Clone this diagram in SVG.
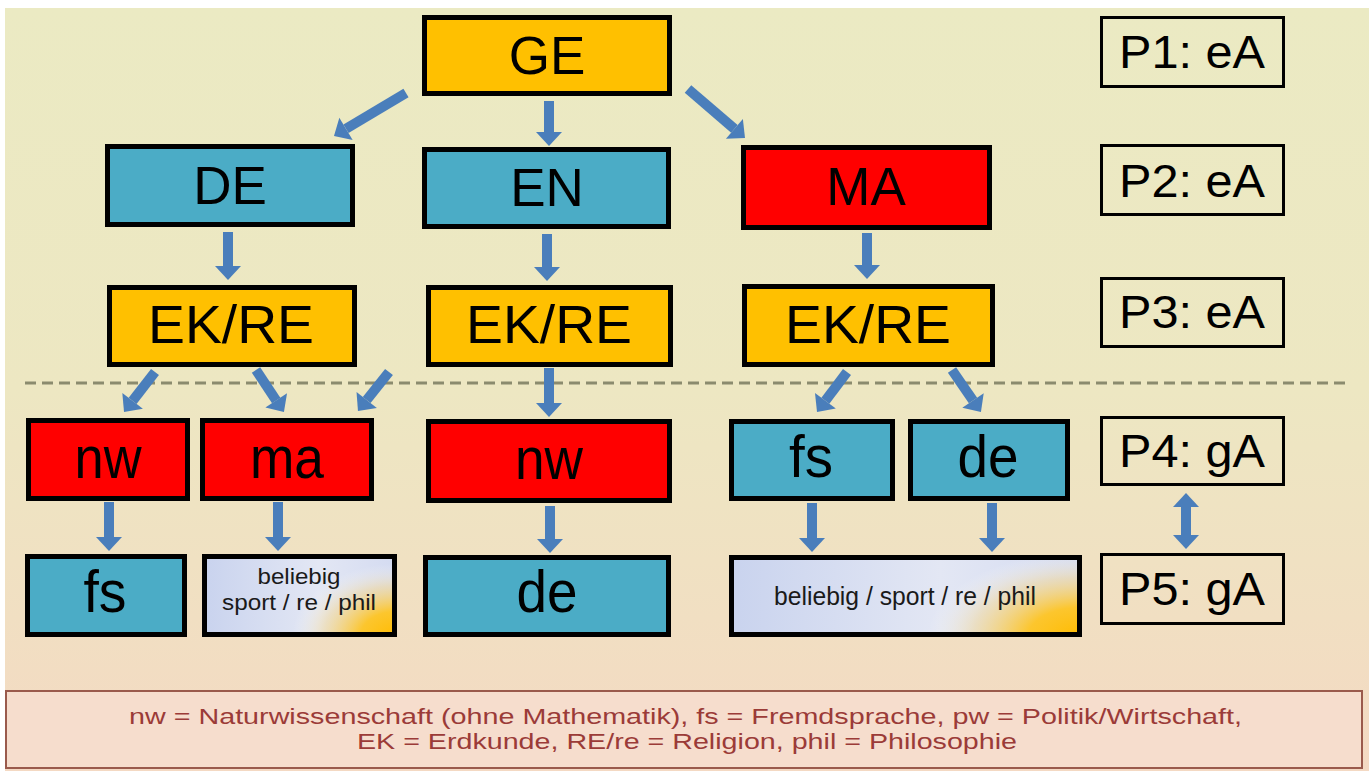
<svg xmlns="http://www.w3.org/2000/svg" width="1369" height="771" viewBox="0 0 1369 771">
  <defs>
    <style>
      .n { stroke: #000; stroke-width: 5; }
      .or { fill: #ffc000; }
      .bl { fill: #4bacc6; }
      .rd { fill: #ff0000; }
      .p { fill: none; stroke: #000; stroke-width: 3; }
      .t { font-family: "Liberation Sans", Arial, sans-serif; fill: #000; text-anchor: middle; }
      .big { font-size: 53px; }
      .low { font-size: 60px; }
      .pl { font-size: 46px; }
      .sm { font-size: 22px; fill: #1a1a1a; }
      .wd { font-size: 25px; fill: #1a1a1a; }
      .leg { font-family: "Liberation Sans", Arial, sans-serif; font-size: 22px; fill: #9b3b38; text-anchor: middle; }
      .ar { stroke: #4a7ebb; stroke-width: 10; fill: none; }
    </style>
    <marker id="ah" markerUnits="userSpaceOnUse" markerWidth="14" markerHeight="26" refX="0" refY="13" orient="auto-start-reverse" overflow="visible">
      <path d="M0,0 L14,13 L0,26 Z" fill="#4a7ebb"/>
    </marker>
    <linearGradient id="bg" x1="0" y1="0" x2="0" y2="1">
      <stop offset="0" stop-color="#ebeac3"/>
      <stop offset="0.5" stop-color="#ede7c2"/>
      <stop offset="0.8" stop-color="#f1dfc2"/>
      <stop offset="1" stop-color="#f4d9c3"/>
    </linearGradient>
    <linearGradient id="belBase" x1="0" y1="0" x2="1" y2="0">
      <stop offset="0" stop-color="#c9d3ee"/>
      <stop offset="0.6" stop-color="#e3e7f4"/>
      <stop offset="1" stop-color="#d4dbf1"/>
    </linearGradient>
    <radialGradient id="belOrW" gradientUnits="userSpaceOnUse" cx="0" cy="0" r="155" gradientTransform="translate(1082,637) scale(1,0.55)">
      <stop offset="0" stop-color="#ffbb00"/>
      <stop offset="0.35" stop-color="#fcc62e"/>
      <stop offset="0.7" stop-color="#f6d890" stop-opacity="0.5"/>
      <stop offset="1" stop-color="#ffffff" stop-opacity="0"/>
    </radialGradient>
    <radialGradient id="belOrS" gradientUnits="userSpaceOnUse" cx="0" cy="0" r="105" gradientTransform="translate(397,637) scale(1,0.7)">
      <stop offset="0" stop-color="#ffbb00"/>
      <stop offset="0.35" stop-color="#fcc62e"/>
      <stop offset="0.7" stop-color="#f6d890" stop-opacity="0.5"/>
      <stop offset="1" stop-color="#ffffff" stop-opacity="0"/>
    </radialGradient>
  </defs>

  <rect x="0" y="0" width="1369" height="771" fill="#ffffff"/>
  <rect x="5" y="8" width="1364" height="763" fill="url(#bg)"/>

  <line x1="25" y1="383" x2="1350" y2="383" stroke="#8b8b6e" stroke-width="3" stroke-dasharray="11 6"/>

  <g id="connectors">
    <line class="ar" x1="406" y1="93" x2="346" y2="128.8" marker-end="url(#ah)"/>
    <line class="ar" x1="549" y1="101" x2="549" y2="132" marker-end="url(#ah)"/>
    <line class="ar" x1="688" y1="89" x2="734.4" y2="128.9" marker-end="url(#ah)"/>
    <line class="ar" x1="228" y1="232" x2="228" y2="266" marker-end="url(#ah)"/>
    <line class="ar" x1="547" y1="234" x2="547" y2="267" marker-end="url(#ah)"/>
    <line class="ar" x1="867" y1="233" x2="867" y2="265" marker-end="url(#ah)"/>
    <line class="ar" x1="155" y1="372" x2="132.6" y2="400.9" marker-end="url(#ah)"/>
    <line class="ar" x1="256" y1="370" x2="276.2" y2="400.4" marker-end="url(#ah)"/>
    <line class="ar" x1="389" y1="372" x2="366.7" y2="400" marker-end="url(#ah)"/>
    <line class="ar" x1="549" y1="368" x2="549" y2="403" marker-end="url(#ah)"/>
    <line class="ar" x1="847" y1="372" x2="825.4" y2="400.8" marker-end="url(#ah)"/>
    <line class="ar" x1="952" y1="370" x2="973" y2="400.5" marker-end="url(#ah)"/>
    <line class="ar" x1="109" y1="502" x2="109" y2="537" marker-end="url(#ah)"/>
    <line class="ar" x1="278" y1="502" x2="278" y2="537" marker-end="url(#ah)"/>
    <line class="ar" x1="550" y1="506" x2="550" y2="539" marker-end="url(#ah)"/>
    <line class="ar" x1="812" y1="503" x2="812" y2="538" marker-end="url(#ah)"/>
    <line class="ar" x1="992" y1="503" x2="992" y2="538" marker-end="url(#ah)"/>
    <line class="ar" x1="1186" y1="507" x2="1186" y2="535" marker-start="url(#ah)" marker-end="url(#ah)"/>
  </g>

  <g id="GE"><rect class="n or" x="424.5" y="17.5" width="245" height="76"/><text class="t big" x="547" y="74">GE</text></g>
  <g id="DE"><rect class="n bl" x="107.5" y="146.5" width="245" height="78"/><text class="t big" x="230" y="204">DE</text></g>
  <g id="EN"><rect class="n bl" x="424.5" y="149.5" width="244" height="77"/><text class="t big" x="547" y="206">EN</text></g>
  <g id="MA"><rect class="n rd" x="743.5" y="147.5" width="246" height="80"/><text class="t big" x="866" y="205">MA</text></g>

  <g id="EKRE1"><rect class="n or" x="109.5" y="287.5" width="245" height="77"/><text class="t big" x="231" y="343" textLength="166" lengthAdjust="spacingAndGlyphs">EK/RE</text></g>
  <g id="EKRE2"><rect class="n or" x="428.5" y="287.5" width="242" height="77"/><text class="t big" x="549" y="343" textLength="166" lengthAdjust="spacingAndGlyphs">EK/RE</text></g>
  <g id="EKRE3"><rect class="n or" x="744.5" y="286.5" width="248" height="78"/><text class="t big" x="868" y="343" textLength="166" lengthAdjust="spacingAndGlyphs">EK/RE</text></g>

  <g id="nw1"><rect class="n rd" x="28.5" y="420.5" width="159" height="78"/><text class="t low" x="108" y="478" textLength="67" lengthAdjust="spacingAndGlyphs">nw</text></g>
  <g id="ma"><rect class="n rd" x="202.5" y="420.5" width="169" height="78"/><text class="t low" x="287" y="478" textLength="74" lengthAdjust="spacingAndGlyphs">ma</text></g>
  <g id="nw2"><rect class="n rd" x="428.5" y="421.5" width="241" height="79"/><text class="t low" x="549" y="479" textLength="68" lengthAdjust="spacingAndGlyphs">nw</text></g>
  <g id="fs4"><rect class="n bl" x="731.5" y="421.5" width="161" height="77"/><text class="t low" x="811" y="477" textLength="44" lengthAdjust="spacingAndGlyphs">fs</text></g>
  <g id="de4"><rect class="n bl" x="910.5" y="421.5" width="157" height="77"/><text class="t low" x="988" y="477" textLength="61" lengthAdjust="spacingAndGlyphs">de</text></g>

  <g id="fs5"><rect class="n bl" x="27.5" y="556.5" width="157" height="78"/><text class="t low" x="105" y="612" textLength="43" lengthAdjust="spacingAndGlyphs">fs</text></g>
  <g id="beliebig1">
    <rect x="204.5" y="556.5" width="190" height="78" fill="url(#belBase)"/>
    <rect x="204.5" y="556.5" width="190" height="78" fill="url(#belOrS)"/>
    <rect class="n" x="204.5" y="556.5" width="190" height="78" fill="none"/>
    <text class="t sm" x="299" y="584" textLength="83" lengthAdjust="spacingAndGlyphs">beliebig</text>
    <text class="t sm" x="299" y="610" textLength="154" lengthAdjust="spacingAndGlyphs">sport / re / phil</text>
  </g>
  <g id="de5"><rect class="n bl" x="425.5" y="557.5" width="243" height="77"/><text class="t low" x="547" y="612" textLength="61" lengthAdjust="spacingAndGlyphs">de</text></g>
  <g id="beliebig2">
    <rect x="731.5" y="557.5" width="348" height="77" fill="url(#belBase)"/>
    <rect x="731.5" y="557.5" width="348" height="77" fill="url(#belOrW)"/>
    <rect class="n" x="731.5" y="557.5" width="348" height="77" fill="none"/>
    <text class="t wd" x="905" y="605" textLength="262" lengthAdjust="spacingAndGlyphs">beliebig / sport / re / phil</text>
  </g>

  <g id="P1"><rect class="p" x="1101.5" y="17.5" width="182" height="69"/><text class="t pl" x="1192" y="68" textLength="146" lengthAdjust="spacingAndGlyphs">P1: eA</text></g>
  <g id="P2"><rect class="p" x="1101.5" y="145.5" width="182" height="69"/><text class="t pl" x="1192" y="197" textLength="146" lengthAdjust="spacingAndGlyphs">P2: eA</text></g>
  <g id="P3"><rect class="p" x="1101.5" y="278.5" width="182" height="68"/><text class="t pl" x="1192" y="328" textLength="146" lengthAdjust="spacingAndGlyphs">P3: eA</text></g>
  <g id="P4"><rect class="p" x="1101.5" y="417.5" width="182" height="67"/><text class="t pl" x="1192" y="467" textLength="146" lengthAdjust="spacingAndGlyphs">P4: gA</text></g>
  <g id="P5"><rect class="p" x="1101.5" y="554.5" width="182" height="69"/><text class="t pl" x="1192" y="605" textLength="146" lengthAdjust="spacingAndGlyphs">P5: gA</text></g>

  <g id="legend">
    <rect x="6" y="691" width="1356" height="77" fill="#f6ddcd" stroke="#9a5a4c" stroke-width="2"/>
    <text class="leg" x="685.5" y="724" textLength="1113" lengthAdjust="spacingAndGlyphs">nw = Naturwissenschaft (ohne Mathematik), fs = Fremdsprache, pw = Politik/Wirtschaft,</text>
    <text class="leg" x="687" y="749" textLength="660" lengthAdjust="spacingAndGlyphs">EK = Erdkunde, RE/re = Religion, phil = Philosophie</text>
  </g>
</svg>
